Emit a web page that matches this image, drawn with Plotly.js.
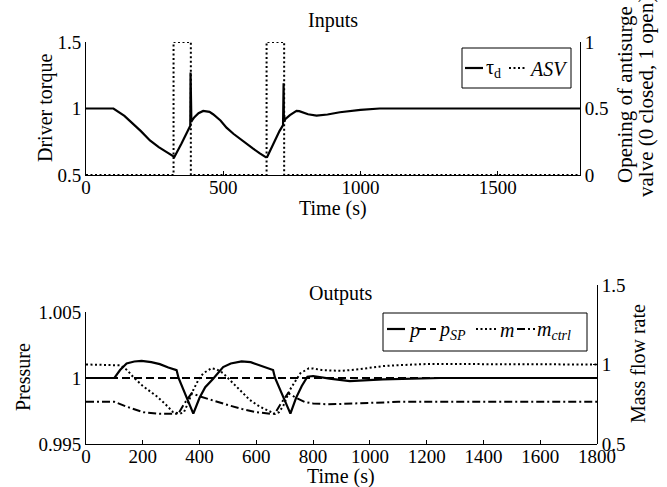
<!DOCTYPE html>
<html><head><meta charset="utf-8">
<script src="https://cdn.plot.ly/plotly-3.0.1.min.js"></script>
<style>html,body{margin:0;padding:0;background:#fff}#chart{width:667px;height:487px}</style>
</head><body><div id="chart"></div>
<script>
// ---- Inputs panel ----
const tTorque = [0,100,140,172,200,233,265,294,318,322,348,370,380,381,382,383,384,386,395,410,427,450,463,490,512,537,560,585,609,632,655,660,688,705,718,720,721,722,723,724,726,743,767,777,809,840,880,925,1000,1070,1800];
const torque  = [1,1,0.945,0.887,0.83,0.76,0.71,0.672,0.636,0.636,0.736,0.83,0.87,1.27,0.92,0.95,0.90,0.91,0.935,0.965,0.982,0.975,0.957,0.91,0.856,0.81,0.773,0.735,0.698,0.665,0.634,0.636,0.76,0.83,0.875,1.19,0.93,0.95,0.90,0.91,0.92,0.95,0.982,0.98,0.957,0.947,0.955,0.972,0.99,1,1];
const tAsv = [0,319,319,382,382,658,658,722,722,1800];
const asv  = [0,0,1,1,0,0,1,1,0,0];

// ---- Outputs panel ----
const tP = [0,100,120,143,170,196,230,260,290,319,326,378,400,420,448,483,510,548,580,620,659,666,720,740,760,780,800,858,929,1046,1163,1250,1800];
const p  = [1,1,1.0006,1.0011,1.00125,1.0013,1.0012,1.00105,1.0008,1.0006,1.0,0.9973,0.9985,0.9993,0.99995,1.00083,1.0011,1.00126,1.0012,1.0009,1.0006,1.0,0.9973,0.9985,0.9994,1.0001,1.00015,0.99995,0.99977,0.9999,0.99995,1,1];
const tSP = [0,1800];
const pSP = [1,1];
const tM = [0,120,145,167,200,249,280,307,331,345,355,378,395,413,442,460,483,505,530,577,612,640,665,680,695,718,740,755,785,800,830,860,900,960,1046,1090,1200,1280,1800];
const m  = [1,0.995,0.965,0.92,0.865,0.80,0.75,0.70,0.69,0.70,0.74,0.84,0.90,0.945,0.976,0.97,0.945,0.905,0.86,0.777,0.735,0.71,0.69,0.70,0.74,0.84,0.90,0.945,0.976,0.975,0.965,0.962,0.96,0.97,0.99,0.995,1.003,1.003,1];
const tMc = [0,100,143,202,260,307,325,345,372,400,450,500,550,600,650,665,685,712,740,770,800,850,900,1000,1100,1800];
const mCtrl = [0.765,0.765,0.735,0.70,0.69,0.69,0.69,0.75,0.82,0.80,0.77,0.745,0.72,0.70,0.69,0.69,0.75,0.82,0.79,0.765,0.755,0.75,0.752,0.76,0.765,0.765];

// series names (legend labels)
const names = ['τ<sub>d</sub>', '<i>ASV</i>', '<i>p</i>', '<i>p</i><sub><i>SP</i></sub>', '<i>m</i>', '<i>m</i><sub><i>ctrl</i></sub>'];

const FONT = 'Liberation Serif, Times New Roman, serif';
const f = {family: FONT, size: 20, color: '#000'};
const ft = {family: FONT, size: 19, color: '#000'};
const DOT = '2px,2.5px', DASH = '8px,4px', DASHDOT = '8px,3px,2px,3px';
const line = (w, d) => ({color: '#000', width: w, dash: d});
const styles = [line(2.2, 'solid'), line(2, DOT), line(2.2, 'solid'), line(2, DASH), line(2, DOT), line(2, DASHDOT)];

const traces = [
  {x: tTorque, y: torque, name: names[0], mode: 'lines', line: styles[0], xaxis: 'x', yaxis: 'y'},
  {x: tAsv, y: asv, name: names[1], mode: 'lines', line: styles[1], xaxis: 'x', yaxis: 'y2'},
  {x: tP, y: p, name: names[2], mode: 'lines', line: styles[2], xaxis: 'x3', yaxis: 'y3'},
  {x: tSP, y: pSP, name: names[3], mode: 'lines', line: styles[3], xaxis: 'x3', yaxis: 'y3'},
  {x: tM, y: m, name: names[4], mode: 'lines', line: styles[4], xaxis: 'x4', yaxis: 'y4'},
  {x: tMc, y: mCtrl, name: names[5], mode: 'lines', line: styles[5], xaxis: 'x4', yaxis: 'y4'}
];
traces.forEach(t => t.showlegend = false);

// plot-area pixel geometry -> paper coordinates
const ML = 86, MR = 70, MT = 42, MB = 43, W = 667, H = 487;
const PX = px => (px - ML) / (W - ML - MR);
const PY = py => (H - MB - py) / (H - MT - MB);

const ax = {showline: true, linecolor: '#000', linewidth: 1, ticks: 'inside', ticklen: 4, tickcolor: '#000',
  showgrid: false, zeroline: false, tickfont: ft, mirror: false, fixedrange: true};

// hand-made compact legends (MATLAB style)
const shapes = [], annotations = [];
function legendBox(x0, x1, y0, y1) {
  shapes.push({type: 'rect', xref: 'paper', yref: 'paper', x0: PX(x0), x1: PX(x1), y0: PY(y1), y1: PY(y0),
    line: {color: '#000', width: 1}, fillcolor: '#fff', layer: 'above'});
}
function legendItem(idx, sx0, sx1, sy, tx) {
  shapes.push({type: 'line', xref: 'paper', yref: 'paper', x0: PX(sx0), x1: PX(sx1), y0: PY(sy), y1: PY(sy),
    line: {color: '#000', width: styles[idx].width, dash: styles[idx].dash}, layer: 'above'});
  annotations.push({text: names[idx], xref: 'paper', yref: 'paper', x: PX(tx), y: PY(sy + 1), xanchor: 'left', yanchor: 'middle',
    showarrow: false, font: f, borderpad: 0});
}
legendBox(462, 571, 48, 88);
legendItem(0, 465, 483, 68, 485);
legendItem(1, 509, 527, 68, 528);
legendBox(383, 587, 313, 351);
legendItem(2, 387, 405, 329, 407);
legendItem(3, 418, 436, 329, 437);
legendItem(4, 476, 498, 329, 499);
legendItem(5, 517, 535, 329, 536);

function label(text, x, y, angle, size) {
  annotations.push({text: text, xref: 'paper', yref: 'paper', x: PX(x), y: PY(y), xanchor: 'center', yanchor: 'middle',
    showarrow: false, textangle: angle || 0, font: Object.assign({}, f, size ? {size: size} : {}), borderpad: 0});
}
label('Inputs', 333, 21);
label('Outputs', 341, 293);
label('Time (s)', 333, 208);
label('Time (s)', 341, 477);
label('Driver torque', 45, 108, -90);
label('Opening of antisurge', 625, 95, -90, 21);
label('valve (0 closed, 1 open)', 646, 97, -90, 21);
label('Pressure', 23, 377, -90);
label('Mass flow rate', 638, 364, -90);

const layout = {
  width: W, height: H,
  margin: {l: ML, r: MR, t: MT, b: MB},
  paper_bgcolor: '#fff', plot_bgcolor: 'rgba(0,0,0,0)',
  font: f, showlegend: false, hovermode: false,
  xaxis: Object.assign({}, ax, {domain: [0, PX(580)], range: [0, 1800], anchor: 'y', tickvals: [0, 500, 1000, 1500], ticklabelstandoff: -5}),
  yaxis: Object.assign({}, ax, {domain: [PY(175), 1], range: [0.5, 1.5], anchor: 'x', tickvals: [0.5, 1, 1.5], ticktext: ['0.5', '1', '1.5']}),
  yaxis2: Object.assign({}, ax, {overlaying: 'y', side: 'right', anchor: 'x', range: [0, 1], tickvals: [0, 0.5, 1], ticktext: ['0', '0.5', '1']}),
  xaxis3: Object.assign({}, ax, {domain: [0, 1], range: [0, 1800], anchor: 'y3', dtick: 200, tick0: 0, ticklabelstandoff: -5}),
  yaxis3: Object.assign({}, ax, {domain: [0, PY(312)], range: [0.995, 1.005], anchor: 'x3', tickvals: [0.995, 1, 1.005], ticktext: ['0.995', '1', '1.005']}),
  xaxis4: Object.assign({}, ax, {domain: [0, 1], range: [0, 1800], anchor: 'y4', visible: false}),
  yaxis4: Object.assign({}, ax, {domain: [0, PY(285)], range: [0.5, 1.5], anchor: 'x4', side: 'right', tickvals: [0.5, 1, 1.5], ticktext: ['0.5', '1', '1.5']}),
  shapes: shapes,
  annotations: annotations
};

Plotly.newPlot('chart', traces, layout, {displayModeBar: false, staticPlot: true});
</script>
</body></html>
